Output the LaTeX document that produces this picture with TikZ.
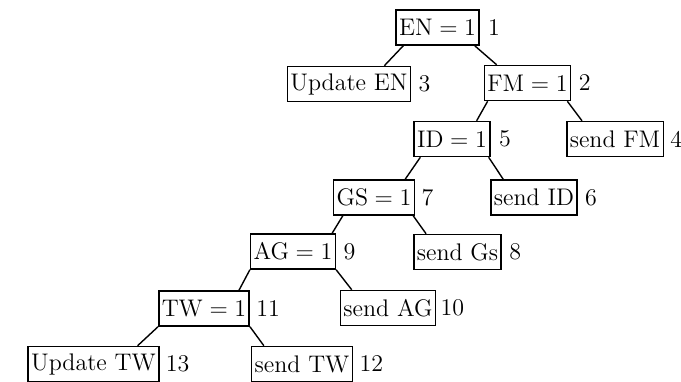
\documentclass[tikz,border=0pt]{standalone}
\usepackage{amsmath}
\usepackage{tikz}
\usetikzlibrary{positioning}

\tikzset{
  box/.style={draw, line width=0.75pt, inner xsep=1.5pt, inner ysep=0pt, minimum height=17.5pt},
  num/.style={inner sep=0pt},
  edge/.style={line width=0.7pt}
}

\begin{document}
\begin{tikzpicture}[x=0.5pt, y=-0.5pt, font=\fontsize{12}{14}\selectfont]
  \useasboundingbox (0,0) rectangle (681,381);

  % tests
  \node[box] (en)  at (437.5,27.5) {EN${}={}$1};
  \node[box] (fm)  at (527.5,83)   {FM${}={}$1};
  \node[box] (id)  at (452,139)    {ID${}={}$1};
  \node[box] (gs)  at (374,197.5)  {GS${}={}$1};
  \node[box] (ag)  at (293,251.5)  {AG${}={}$1};
  \node[box] (tw)  at (204,308.5)  {TW${}={}$1};

  % actions
  \node[box] (upen) at (349,84)    {Update EN};
  \node[box] (sfm)  at (615,139)   {send FM};
  \node[box] (sid)  at (534,197.5) {send ID};
  \node[box] (sgs)  at (457.5,252) {send Gs};
  \node[box] (sag)  at (388,308)   {send AG};
  \node[box] (uptw) at (93.5,364)  {Update TW};
  \node[box] (stw)  at (302,364)   {send TW};

  % numbers
  \node[num, right=4pt of en]   (en-n)   {1};
  \node[num, right=3.5pt of upen] (upen-n) {3};
  \node[num, right=3.5pt of fm]   (fm-n)   {2};
  \node[num, right=4pt of id]   (id-n)   {5};
  \node[num, right=3pt of sfm]  (sfm-n)  {4};
  \node[num, right=3pt of gs]   (gs-n)   {7};
  \node[num, right=3.5pt of sid]  (sid-n)  {6};
  \node[num, right=3.5pt of ag]   (ag-n)   {9};
  \node[num, right=3.5pt of sgs]  (sgs-n)  {8};
  \node[num, right=3pt of tw]   (tw-n)   {11};
  \node[num, right=2pt of sag]  (sag-n)  {10};
  \node[num, right=3pt of uptw] (uptw-n) {13};
  \node[num, right=3pt of stw]  (stw-n)  {12};

  % branches
  \draw[edge] ([xshift=4pt]en.south west)  -- ([xshift=-13.5pt]upen.north east);
  \draw[edge] ([xshift=-2.5pt]en.south east) -- ([xshift=6.5pt]fm.north west);
  \draw[edge] ([xshift=2pt]fm.south west)  -- ([xshift=-7pt]id.north east);
  \draw[edge] ([xshift=-2pt]fm.south east) -- ([xshift=8pt]sfm.north west);
  \draw[edge] ([xshift=3.5pt]id.south west) -- ([xshift=-5pt]gs.north east);
  \draw[edge] ([xshift=-1pt]id.south east) -- ([xshift=6.5pt]sid.north west);
  \draw[edge] ([xshift=5pt]gs.south west)  -- ([xshift=-2pt]ag.north east);
  \draw[edge] ([xshift=-1pt]gs.south east) -- ([xshift=6.5pt]sgs.north west);
  \draw[edge] (ag.south west) -- ([xshift=-5.5pt]tw.north east);
  \draw[edge] (ag.south east) -- ([xshift=6pt]sag.north west);
  \draw[edge] (tw.south west) -- ([xshift=-11pt]uptw.north east);
  \draw[edge] (tw.south east) -- ([xshift=6.5pt]stw.north west);
\end{tikzpicture}
\end{document}
